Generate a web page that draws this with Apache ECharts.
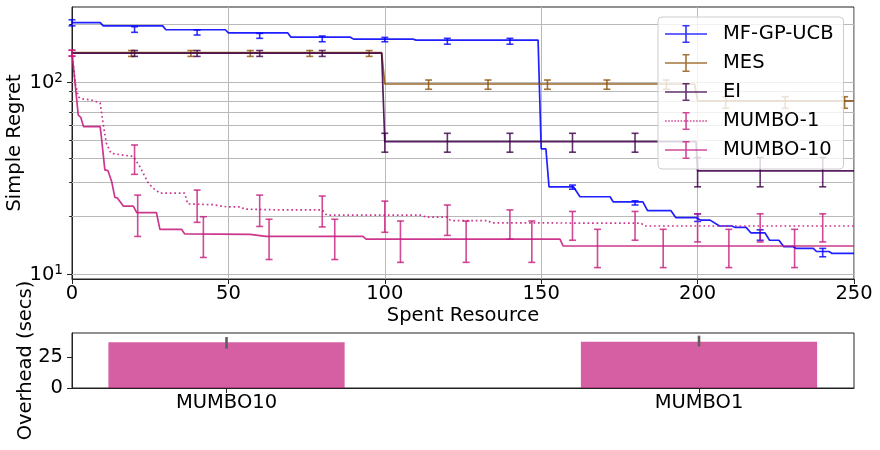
<!DOCTYPE html>
<html><head><meta charset="utf-8">
<script src="https://cdn.jsdelivr.net/npm/echarts@6/dist/echarts.min.js"></script>
<style>html,body{margin:0;padding:0;background:#fff}#c{width:880px;height:450px}</style>
</head><body><div id="c"></div><script>
// ---------- data ----------
const seriesNames = ['MF-GP-UCB', 'MES', 'EI', 'MUMBO-1', 'MUMBO-10'];

const ucbCurve = [[0,205],[9,205],[10,197],[29,197],[30,188],[49,188],[50,181],[69,181],[70,172],[89,172],[90,168],[109,168],[110,166],[149,166],[150,45],[151.5,45],[152.5,28.5],[160.3,28.5],[162.4,25.3],[172,25.3],[173,23.8],[182.5,23.8],[184,21.4],[191.5,21.4],[193,19.7],[199.5,19.7],[201,19.1],[204,19.1],[207,17.8],[211,17.8],[212,17.5],[215.5,17.5],[217,16.4],[221.5,16.4],[223,15.0],[226,15.0],[227.5,13.9],[230.5,13.9],[231.5,13.6],[237,13.6],[238,13.1],[242,13.1],[243,12.8],[250,12.8]];
const mesCurve = [[0,143],[99,143],[100,98],[199,98],[200,80],[250,80]];
const eiCurve = [[0,142],[99,142],[100,49],[199.5,49],[200,34.5],[250,34.5]];
const mumbo1Curve = [[0,143],[1,100],[2,84],[3,82],[6,81],[9,78],[10,60],[11,48],[12.5,42.6],[19.6,41],[21.7,36.3],[24.4,29.8],[26,28],[28.1,26.4],[36,26.4],[37,23.2],[45,23.0],[49.5,22.4],[54,22.4],[55,21.8],[66.5,21.6],[80,21.6],[81.4,20.3],[112,20.3],[113,19.8],[120,19.8],[121,19.0],[133,19.0],[134,18.5],[182,18.4],[183,17.8],[250,17.8]];
const mumbo10Curve = [[0,143],[2,67.4],[2.8,65.7],[3.7,58.7],[9,58.7],[9.5,50],[10.5,34.9],[11.5,34.6],[12.7,30.3],[13.7,25.1],[14.5,24.9],[16.4,22.6],[19.6,22.6],[20.7,20.9],[27,20.9],[28.1,17.1],[35,17.1],[36,16.2],[57,16.1],[62,15.7],[93,15.7],[94,15.2],[156,15.2],[157,14.0],[250,14.0]];

const ucbErrX = [0,20,40,60,80,100,120,140,160,180,200,220,240];
const ucbErrLow = [197,182.3,176.4,169.6,162.8,162.8,158,158,27.7,22.9,18.8,15.0,12.3];
const ucbErrHigh = [212,195,187.5,180,174.4,171.5,169.6,169.6,29.1,24.1,20.6,17.0,13.6];

const mesErrX = [19,38,57,76,95,114,133,152,171,190,209,228,247];
const mesErrLow = [136.5,136.5,136.5,136.5,136.5,92,92,92,92,92,73.2,73.2,73.2];
const mesErrHigh = [146.5,146.5,146.5,146.5,146.5,102.8,102.8,102.8,102.8,102.8,84.1,84.1,84.1];

const eiErrX = [20,40,60,80,100,120,140,160,180,200,220,240];
const eiErrLow = [136.5,136.5,136.5,136.5,43.2,43.2,43.2,43.2,43.2,28.5,28.5,28.5];
const eiErrHigh = [146.5,146.5,146.5,146.5,54.2,54.2,54.2,54.2,54.2,40.5,40.5,40.5];

const mumbo1ErrX = [0,20,40,60,80,100,120,140,160,180,200,220,240];
const mumbo1ErrLow = [137,33.1,18.6,17.7,17.6,16.5,15.9,15.2,15.0,15.0,14.7,14.7,14.7];
const mumbo1ErrHigh = [147,47.1,27.4,25.8,25.5,24.0,22.9,21.6,21.2,21.2,20.6,20.6,20.6];

const mumbo10ErrX = [0,21,42,63,84,105,126,147,168,189,210,231];
const mumbo10ErrLow = [137,15.7,12.2,11.9,11.9,11.5,11.5,11.5,10.8,10.8,10.8,10.8];
const mumbo10ErrHigh = [147,25.8,19.9,19.3,19.3,18.9,18.9,18.9,17.1,17.1,17.1,17.1];

const xTicks = [0,50,100,150,200,250];
const yMajorTicks = [10,100];
const yMinorTicks = [20,30,40,50,60,70,80,90,200];

const barCategories = ['MUMBO10', 'MUMBO1'];
const barValues = [36.8, 37.3];
const barErrLow = [31.7, 33.5];
const barErrHigh = [41.1, 42.2];
const overheadTicks = [0, 25];

// ---------- styles ----------
const FONT = 'DejaVu Sans';
const FS = 19.5;
const lineColors = ['rgba(0,0,255,0.88)','rgba(140,81,10,0.88)','rgba(64,0,75,0.88)','rgba(197,27,125,0.88)','rgba(197,27,125,0.88)'];
const errColors = ['rgba(0,0,255,0.8)','rgba(140,81,10,0.8)','rgba(64,0,75,0.8)','rgba(197,27,125,0.8)','rgba(197,27,125,0.8)'];
const legendColors = ['rgba(0,0,255,0.8)','rgba(140,81,10,0.8)','rgba(64,0,75,0.8)','rgba(197,27,125,0.8)','rgba(197,27,125,0.8)'];
const GRID_COLOR = '#b9b9b9';
const BAR_WIDTH = 0.5;

const zip3 = (x, a, b) => x.map((v, i) => [v, a[i], b[i]]);

function errRender(color) {
  return function (params, api) {
    const x = api.value(0);
    const p1 = api.coord([x, api.value(1)]);
    const p2 = api.coord([x, api.value(2)]);
    const cw = 3.5;
    const st = { stroke: color, lineWidth: 1.6 };
    return { type: 'group', children: [
      { type: 'line', shape: { x1: p1[0], y1: p1[1], x2: p2[0], y2: p2[1] }, style: st },
      { type: 'line', shape: { x1: p1[0]-cw, y1: p1[1], x2: p1[0]+cw, y2: p1[1] }, style: st },
      { type: 'line', shape: { x1: p2[0]-cw, y1: p2[1], x2: p2[0]+cw, y2: p2[1] }, style: st }
    ]};
  };
}

const solidIcon = 'path://M0,8.2h42v1.6H0zM20.2,0h1.6v18h-1.6zM17.5,0h7v1.5h-7zM17.5,16.5h7v1.5h-7z';
let dots = '';
for (let i = 0; i < 14; i++) dots += 'M' + (i * 3.1).toFixed(1) + ',8.2h1.6v1.6h-1.6z';
const dottedIcon = 'path://' + dots + 'M20.2,0h1.6v18h-1.6zM17.5,0h7v1.5h-7zM17.5,16.5h7v1.5h-7z';

const curves = [ucbCurve, mesCurve, eiCurve, mumbo1Curve, mumbo10Curve];
const errs = [
  zip3(ucbErrX, ucbErrLow, ucbErrHigh),
  zip3(mesErrX, mesErrLow, mesErrHigh),
  zip3(eiErrX, eiErrLow, eiErrHigh),
  zip3(mumbo1ErrX, mumbo1ErrLow, mumbo1ErrHigh),
  zip3(mumbo10ErrX, mumbo10ErrLow, mumbo10ErrHigh)
];

const series = [];
series.push({
  type: 'line', name: '_grid', xAxisIndex: 0, yAxisIndex: 0, data: [], z: 1, silent: true,
  markLine: {
    z: 1, silent: true, symbol: 'none', label: { show: false }, animation: false,
    lineStyle: { color: GRID_COLOR, width: 1, type: 'solid' },
    emphasis: { disabled: true },
    data: yMajorTicks.concat(yMinorTicks).map(v => ({ yAxis: v }))
  }
});
seriesNames.forEach((name, i) => {
  series.push({
    type: 'line', name: name, xAxisIndex: 0, yAxisIndex: 0, data: curves[i],
    showSymbol: false, symbol: 'none', animation: false, silent: true,
    lineStyle: { color: lineColors[i], width: 1.7, type: i === 3 ? [1.7, 2.8] : 'solid' },
    itemStyle: { color: lineColors[i] }
  });
  series.push({
    type: 'custom', name: name + ' err', xAxisIndex: 0, yAxisIndex: 0, data: errs[i],
    encode: { x: 0, y: [1, 2] }, renderItem: errRender(errColors[i]), animation: false, silent: true
  });
});
series.push({
  type: 'custom', name: 'overhead', xAxisIndex: 1, yAxisIndex: 2,
  data: barValues.map((v, i) => [i, v]), encode: { x: 0, y: 1 }, animation: false, silent: true,
  renderItem: function (params, api) {
    const x = api.value(0), v = api.value(1);
    const p1 = api.coord([x - BAR_WIDTH / 2, v]);
    const p2 = api.coord([x + BAR_WIDTH / 2, 0]);
    return { type: 'rect', shape: { x: p1[0], y: p1[1], width: p2[0] - p1[0], height: p2[1] - p1[1] },
      style: { fill: 'rgba(197,27,125,0.7)' } };
  }
});
series.push({
  type: 'custom', name: 'overhead err', xAxisIndex: 1, yAxisIndex: 2,
  data: barValues.map((v, i) => [i, barErrLow[i], barErrHigh[i]]), encode: { x: 0, y: [1, 2] },
  animation: false, silent: true,
  renderItem: function (params, api) {
    const x = api.value(0);
    const p1 = api.coord([x, api.value(1)]);
    const p2 = api.coord([x, api.value(2)]);
    return { type: 'line', shape: { x1: p1[0], y1: p1[1], x2: p2[0], y2: p2[1] },
      style: { stroke: '#5f5f5f', lineWidth: 2.6 } };
  }
});

const axisText = { color: '#000', fontFamily: FONT, fontSize: FS };
const chart = echarts.init(document.getElementById('c'), null, { renderer: 'canvas' });
chart.setOption({
  animation: false,
  textStyle: { fontFamily: FONT },
  grid: [
    { left: 72, right: 26, top: 7, height: 272, show: true, borderColor: '#222', borderWidth: 1, backgroundColor: 'transparent', containLabel: false, outerBoundsMode: 'none' },
    { left: 72, right: 26, top: 333, height: 55, show: true, borderColor: '#222', borderWidth: 1, backgroundColor: 'transparent', containLabel: false, outerBoundsMode: 'none' }
  ],
  xAxis: [
    { type: 'value', gridIndex: 0, min: 0, max: 250, interval: 50,
      name: 'Spent Resource', nameLocation: 'middle', nameGap: 27, nameMoveOverlap: false, nameTextStyle: axisText,
      axisLine: { show: true, onZero: false, lineStyle: { color: '#222', width: 1 } },
      axisTick: { show: true, length: 5, lineStyle: { color: '#222' } },
      axisLabel: Object.assign({ margin: 5 }, axisText),
      splitLine: { show: true, lineStyle: { color: GRID_COLOR, width: 1 } } },
    { type: 'value', gridIndex: 1, min: -0.327, max: 1.328,
      axisLine: { show: true, onZero: false, lineStyle: { color: '#222', width: 1 } },
      axisTick: { show: true, length: 5, customValues: [0, 1], lineStyle: { color: '#222' } },
      axisLabel: Object.assign({ margin: 5, customValues: [0, 1], formatter: v => barCategories[Math.round(v)] }, axisText),
      splitLine: { show: false } }
  ],
  yAxis: [
    { type: 'log', logBase: 10, gridIndex: 0, min: 9.417, max: 247.1,
      name: 'Simple Regret', nameLocation: 'middle', nameGap: 47, nameMoveOverlap: false, nameTextStyle: axisText,
      axisLine: { show: true, onZero: false, lineStyle: { color: '#222', width: 1 } },
      axisTick: { show: true, length: 5, customValues: yMajorTicks, lineStyle: { color: '#222' } },
      axisLabel: Object.assign({ margin: 9, customValues: yMajorTicks,
        formatter: v => '{n|10}{s|' + Math.round(Math.log10(v)) + '}',
        rich: { n: { fontSize: FS, fontFamily: FONT, color: '#000', verticalAlign: 'bottom', lineHeight: 22 },
                s: { fontSize: 13.6, fontFamily: FONT, color: '#000', verticalAlign: 'top', lineHeight: 14 } } }, axisText),
      splitLine: { show: false } },
    { type: 'log', logBase: 10, gridIndex: 0, min: 9.417, max: 247.1, position: 'left',
      axisLine: { show: false, onZero: false }, axisLabel: { show: false }, splitLine: { show: false },
      axisTick: { show: true, length: 2.8, customValues: yMinorTicks, lineStyle: { color: '#222' } } },
    { type: 'value', gridIndex: 1, min: 0, max: 44.35,
      name: 'Overhead (secs)', nameLocation: 'middle', nameGap: 36, nameMoveOverlap: false, nameTextStyle: axisText,
      axisLine: { show: true, onZero: false, lineStyle: { color: '#222', width: 1 } },
      axisTick: { show: true, length: 5, customValues: overheadTicks, lineStyle: { color: '#222' } },
      axisLabel: Object.assign({ margin: 9, customValues: overheadTicks }, axisText),
      splitLine: { show: false } }
  ],
  legend: {
    left: 658, top: 17, orient: 'vertical',
    padding: [7, 10, 9, 7], itemWidth: 42, itemHeight: 18, itemGap: 9,
    backgroundColor: 'rgba(255,255,255,0.8)', borderColor: '#cccccc', borderWidth: 1, borderRadius: 4,
    textStyle: { color: '#000', fontFamily: FONT, fontSize: FS, lineHeight: 18, padding: [0, 0, 0, 11] },
    selectedMode: false,
    data: seriesNames.map((n, i) => ({
      name: n, icon: i === 3 ? dottedIcon : solidIcon,
      itemStyle: { color: legendColors[i], borderWidth: 0 }
    }))
  },
  series: series
});
</script></body></html>
